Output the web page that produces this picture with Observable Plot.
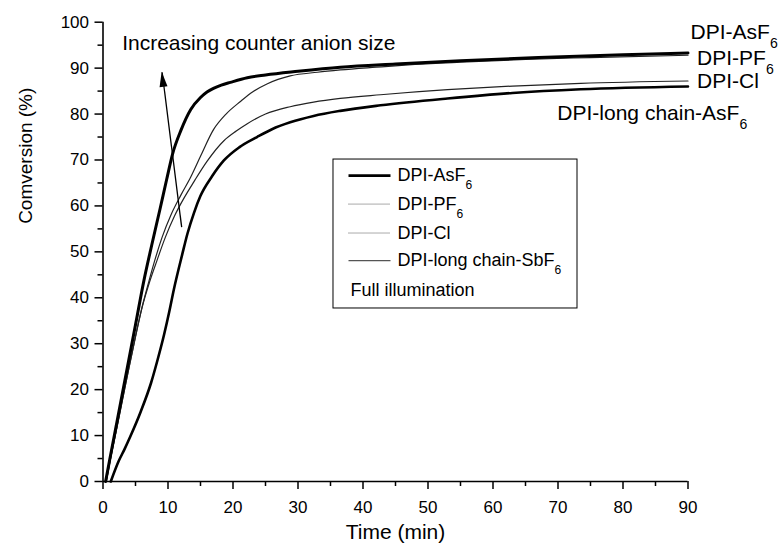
<!DOCTYPE html>
<html><head><meta charset="utf-8">
<script src="https://cdn.jsdelivr.net/npm/d3@7"></script>
<script src="https://cdn.jsdelivr.net/npm/@observablehq/plot@0.6"></script>
<style>body{margin:0;background:#fff} svg{display:block}</style>
</head><body><div id="chart"></div>
<script>
// ---- data ----
const asf6T = [0.4, 1, 2, 3, 4, 5, 6.3, 7.5, 8.8, 9.8, 10.7, 12, 13.5, 15, 16, 17, 18.2, 19.6, 22.2, 25, 30, 36.5, 45, 55, 67, 80, 90];
const asf6V = [0, 4.5, 11.9, 19.3, 26.7, 34.1, 43.8, 51.5, 59.5, 65.8, 71.3, 76.5, 81.0, 83.6, 84.8, 85.6, 86.3, 86.9, 87.9, 88.5, 89.3, 90.2, 90.9, 91.6, 92.3, 92.9, 93.3];
const pf6T = [0.5, 1, 2, 3, 4, 5, 6, 7.1, 8, 9.1, 10.5, 12, 13.5, 15, 17, 19, 21.2, 23, 25.3, 28.8, 33, 36.5, 42, 48, 55, 65, 75, 90];
const pf6V = [0, 3.8, 10.8, 17.8, 24.8, 31.6, 37.9, 43.8, 48.3, 53.2, 58.2, 62.4, 66.3, 70.8, 76.6, 80.1, 82.8, 84.8, 86.6, 88.3, 89.1, 89.6, 90.2, 90.8, 91.3, 91.9, 92.3, 92.8];
const clT = [0.5, 1, 2, 3, 4, 5, 6, 7.2, 8.3, 9.6, 11, 12.5, 14, 16, 18.6, 20.5, 22.2, 25, 28.8, 32.4, 36.5, 42.7, 53, 63, 73.5, 90];
const clV = [0, 3.8, 10.8, 17.8, 24.8, 31.5, 37.8, 43.6, 48.1, 53.2, 57.8, 61.8, 65.3, 69.7, 74.2, 76.3, 77.9, 80, 81.6, 82.6, 83.4, 84.2, 85.3, 86.1, 86.7, 87.2];
const longT = [1.2, 2.4, 3.3, 4.2, 5.8, 7.4, 8.4, 9.4, 10.2, 10.9, 12.2, 13, 14, 15, 16.8, 18.6, 21, 23.7, 26, 28.8, 32.4, 36.5, 42.7, 53, 63, 73.5, 90];
const longV = [0, 4.4, 7.0, 9.8, 15.2, 21.5, 26.5, 32.0, 37.0, 41.8, 49.5, 54.0, 58.5, 62.2, 66.5, 69.9, 72.8, 75.0, 76.7, 78.2, 79.6, 80.7, 81.9, 83.4, 84.6, 85.4, 86.0];

const xTicks = [0, 10, 20, 30, 40, 50, 60, 70, 80, 90];
const yTicks = [0, 10, 20, 30, 40, 50, 60, 70, 80, 90, 100];
const xMinor = [5, 15, 25, 35, 45, 55, 65, 75, 85];
const yMinor = [5, 15, 25, 35, 45, 55, 65, 75, 85, 95];

const curveLabels = ["DPI-AsF_6", "DPI-PF_6", "DPI-Cl", "DPI-long chain-AsF_6"];
const legendLabels = ["DPI-AsF_6", "DPI-PF_6", "DPI-Cl", "DPI-long chain-SbF_6"];
const legendNote = "Full illumination";
const annotation = "Increasing counter anion size";
const xTitle = "Time (min)";
const yTitle = "Comversion (%)";

// ---- layout (data units) ----
const labelPos = [[90.4, 97.9], [91.4, 92.2], [91.4, 87.1], [69.9, 80.1]];
const arrowTail = [12.1, 55.4], arrowTip = [9.1, 89.1];
const annoPos = [2.95, 95.5];
const legBox = {x1: 35.46, x2: 73.0, y1: 37.67, y2: 70.1};
const legRowsY = [66.6, 60.4, 54.1, 48.1];
const legNoteY = 41.6;
const legLineX = [37.77, 44.23], legTextX = 45.3, legNoteX = 38.08;
const legStyles = [
  {stroke: "#000", strokeWidth: 2.6},
  {stroke: "#555", strokeWidth: 1, strokeDasharray: "1,1"},
  {stroke: "#555", strokeWidth: 1, strokeDasharray: "1,1"},
  {stroke: "#555", strokeWidth: 1.2}
];

const mk = (T, V) => T.map((t, i) => ({t, v: V[i]}));
const sAsF6 = mk(asf6T, asf6V), sPF6 = mk(pf6T, pf6V), sCl = mk(clT, clV), sLong = mk(longT, longV);

const font = "'Liberation Sans', Arial, sans-serif";

const legendMarks = legendLabels.flatMap((lab, i) => [
  Plot.link([0], {x1: legLineX[0], x2: legLineX[1], y1: legRowsY[i], y2: legRowsY[i], ...legStyles[i]}),
  Plot.text([lab], {x: legTextX, y: legRowsY[i], text: d => d, textAnchor: "start", fontSize: 18})
]);

const plot = Plot.plot({
  width: 781, height: 548,
  marginLeft: 102.5, marginRight: 93.5, marginTop: 21.7, marginBottom: 67,
  x: {domain: [0, 90]},
  y: {domain: [0, 100]},
  style: {fontFamily: font, fontSize: "17px", background: "#fff", color: "#000", overflow: "visible"},
  marks: [
    Plot.line(sLong, {x: "t", y: "v", stroke: "#000", strokeWidth: 2.6, curve: "monotone-x"}),
    Plot.line(sCl, {x: "t", y: "v", stroke: "#222", strokeWidth: 1.2, curve: "monotone-x"}),
    Plot.line(sPF6, {x: "t", y: "v", stroke: "#222", strokeWidth: 1.2, curve: "monotone-x"}),
    Plot.line(sAsF6, {x: "t", y: "v", stroke: "#000", strokeWidth: 3, curve: "monotone-x"}),
    Plot.ruleY([0], {strokeWidth: 1.6}),
    Plot.ruleX([0], {strokeWidth: 1.6}),
    Plot.axisX(xTicks, {tickSize: 8, tickPadding: 11, strokeWidth: 1.5, fontSize: 17, label: null}),
    Plot.axisX(xMinor, {tickSize: 5, strokeWidth: 1.5, tickFormat: () => "", label: null}),
    Plot.axisY(yTicks, {tickSize: 8, tickPadding: 6, strokeWidth: 1.5, fontSize: 17, label: null}),
    Plot.axisY(yMinor, {tickSize: 5, strokeWidth: 1.5, tickFormat: () => "", label: null}),
    Plot.text([xTitle], {frameAnchor: "bottom", dy: 57, text: d => d, fontSize: 21}),
    Plot.text([yTitle], {frameAnchor: "left", dx: -77, dy: -28, rotate: -90, text: d => d, fontSize: 19}),
    Plot.text(curveLabels, {x: (d, i) => labelPos[i][0], y: (d, i) => labelPos[i][1], text: d => d, textAnchor: "start", fontSize: 21}),
    Plot.text([annotation], {x: annoPos[0], y: annoPos[1], text: d => d, textAnchor: "start", fontSize: 21}),
    Plot.link([0], {x1: arrowTail[0], y1: arrowTail[1], x2: arrowTip[0], y2: arrowTip[1], stroke: "#000", strokeWidth: 1.3}),
    Plot.rect([0], {x1: legBox.x1, x2: legBox.x2, y1: legBox.y1, y2: legBox.y2, fill: "#fff", stroke: "#000", strokeWidth: 1}),
    ...legendMarks,
    Plot.text([legendNote], {x: legNoteX, y: legNoteY, text: d => d, textAnchor: "start", fontSize: 18})
  ]
});

// subscripts
plot.querySelectorAll("text").forEach(el => {
  if (el.children.length === 0 && el.textContent.includes("_")) {
    const [a, b] = el.textContent.split("_");
    el.textContent = a;
    const ts = document.createElementNS("http://www.w3.org/2000/svg", "tspan");
    ts.setAttribute("font-size", "0.67em");
    ts.setAttribute("dy", "0.65em");
    ts.textContent = b;
    el.appendChild(ts);
  }
});

// filled arrow head, positioned with the plot's scales
const sx = plot.scale("x"), sy = plot.scale("y");
const fx = sx.apply ? (v => sx.apply(v)) : d3.scaleLinear(sx.domain, sx.range);
const fy = sy.apply ? (v => sy.apply(v)) : d3.scaleLinear(sy.domain, sy.range);
const tx = fx(arrowTip[0]), ty = fy(arrowTip[1]);
const bx = fx(arrowTail[0]), by = fy(arrowTail[1]);
const L = Math.hypot(tx - bx, ty - by), ux = (tx - bx) / L, uy = (ty - by) / L;
const hl = 15, hw = 4;
const p1 = [tx - ux * hl - uy * hw, ty - uy * hl + ux * hw];
const p2 = [tx - ux * hl + uy * hw, ty - uy * hl - ux * hw];
const head = document.createElementNS("http://www.w3.org/2000/svg", "path");
head.setAttribute("d", `M${tx},${ty}L${p1[0]},${p1[1]}L${p2[0]},${p2[1]}Z`);
head.setAttribute("fill", "#000");
plot.appendChild(head);

document.getElementById("chart").appendChild(plot);
</script>
</body></html>
